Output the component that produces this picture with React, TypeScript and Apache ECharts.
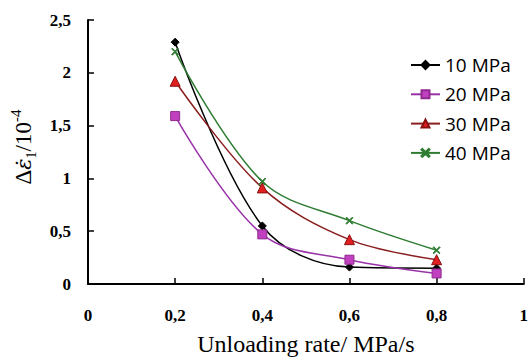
import React, { useEffect, useRef } from "react";
import * as echarts from "echarts";

const xValues = [0.2, 0.4, 0.6, 0.8];
const seriesNames = ["10 MPa", "20 MPa", "30 MPa", "40 MPa"];
const s10 = [2.29, 0.55, 0.16, 0.15];
const s20 = [1.59, 0.47, 0.23, 0.1];
const s30 = [1.92, 0.91, 0.42, 0.23];
const s40 = [2.2, 0.97, 0.6, 0.32];

const xPath = "path://M0,1L1,0L5,4L9,0L10,1L6,5L10,9L9,10L5,6L1,10L0,9L4,5Z";

function pairs(ys: number[]) {
  return xValues.map((x, i) => [x, ys[i]]);
}

const comma = (v: number) => String(Math.round(v * 10) / 10).replace(".", ",");

export default function App() {
  const ref = useRef<HTMLDivElement>(null);
  useEffect(() => {
    if (!ref.current) return;
    const chart = echarts.init(ref.current, null, { renderer: "svg" });
    const serif = "Liberation Serif";
    const mk = (name: string, data: number[], line: string, fill: string, border: string, symbol: string, size: number) => ({
      name,
      type: "line",
      data: pairs(data),
      smooth: 0.35,
      symbol,
      symbolSize: size,
      lineStyle: { color: line, width: 1.5 },
      itemStyle: { color: fill, borderColor: border, borderWidth: 1 },
    });
    chart.setOption({
      animation: false,
      backgroundColor: "#ffffff",
      grid: { left: 88, right: 4, top: 20, bottom: 70, containLabel: false },
      legend: {
        orient: "vertical",
        left: 405,
        top: 50,
        itemWidth: 29,
        itemHeight: 10,
        itemGap: 9.3,
        textStyle: { fontFamily: "Open Sans", fontSize: 19, color: "#000", lineHeight: 20 },
        data: seriesNames,
      },
      xAxis: {
        type: "value",
        min: 0,
        max: 1,
        interval: 0.2,
        axisLine: { lineStyle: { color: "#000", width: 2 } },
        axisTick: { inside: true, length: 6, lineStyle: { color: "#000", width: 1.5 } },
        splitLine: { show: false },
        axisLabel: {
          formatter: comma,
          fontFamily: serif,
          fontWeight: "bold",
          fontSize: 17,
          color: "#000",
          margin: 23,
        },
        name: "Unloading rate/ MPa/s",
        nameLocation: "middle",
        nameGap: 48,
        nameTextStyle: { fontFamily: serif, fontSize: 24, color: "#000" },
      },
      yAxis: {
        type: "value",
        min: 0,
        max: 2.5,
        interval: 0.5,
        axisLine: { show: true, lineStyle: { color: "#000", width: 2 } },
        axisTick: { show: true, inside: true, length: 6, lineStyle: { color: "#000", width: 1.5 } },
        splitLine: { show: false },
        axisLabel: {
          formatter: comma,
          fontFamily: serif,
          fontWeight: "bold",
          fontSize: 17,
          color: "#000",
          margin: 17,
        },
        name: "{a|Δ}{e|ε̇}{sub|1}{a|/10}{sup|-4}",
        nameLocation: "middle",
        nameRotate: 90,
        nameGap: 47,
        nameTextStyle: {
          color: "#000",
          fontFamily: serif,
          lineHeight: 30,
          padding: [0, 0, 0, 10],
          rich: {
            a: { fontFamily: serif, fontSize: 23, color: "#000" },
            e: { fontFamily: "DejaVu Serif", fontSize: 21, fontStyle: "italic", color: "#000" },
            sub: { fontFamily: serif, fontSize: 14, color: "#000", verticalAlign: "bottom", lineHeight: 30 },
            sup: { fontFamily: serif, fontSize: 15, color: "#000", verticalAlign: "top", lineHeight: 30 },
          },
        },
      },
      series: [
        mk(seriesNames[0], s10, "#000000", "#000000", "#000000", "diamond", 8),
        mk(seriesNames[1], s20, "#9932a8", "#c040c0", "#8e2a8e", "rect", 9),
        mk(seriesNames[2], s30, "#8b1e1e", "#e02020", "#8b1010", "triangle", 10),
        mk(seriesNames[3], s40, "#2e7d32", "#2e7d32", "#2e7d32", xPath, 7),
      ],
    });
    return () => chart.dispose();
  }, []);
  return <div ref={ref} style={{ width: 531, height: 361, position: "absolute", left: 0, top: 0 }} />;
}
